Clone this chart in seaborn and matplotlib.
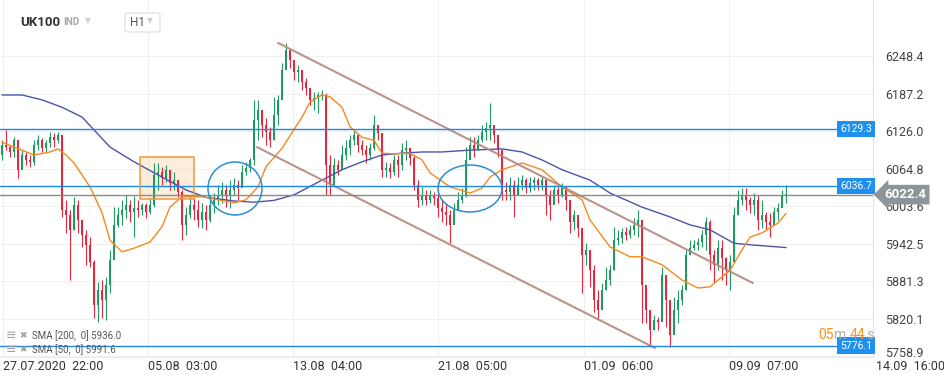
import numpy as np
import pandas as pd
import matplotlib
matplotlib.use("Agg")
import matplotlib.pyplot as plt
import matplotlib.transforms as mtransforms
from matplotlib.patches import Ellipse, Rectangle, FancyBboxPatch
import seaborn as sns

# ---------------- data ----------------
first_open = 6087
close = [6103, 6100, 6092, 6111, 6063, 6087, 6079, 6076, 6103, 6111, 6098, 6107, 6116, 6111, 6120,
         5997, 5989, 5965, 6005, 5981, 5957, 5940, 5912, 5842, 5867, 5850, 5875, 5916, 5973, 5989,
         5997, 6005, 5994, 6001, 5997, 6005, 5994, 6005, 6054, 6059, 6050, 6063, 6041, 6046, 6027,
         5973, 5989, 6005, 5997, 5981, 5994, 5981, 6005, 6014, 6022, 6030, 6022, 6030, 6038, 6033,
         6059, 6066, 6079, 6144, 6160, 6136, 6125, 6111, 6152, 6177, 6226, 6258, 6242, 6222, 6226,
         6206, 6196, 6177, 6180, 6185, 6185, 6071, 6038, 6071, 6063, 6087, 6098, 6111, 6120, 6103,
         6095, 6087, 6098, 6136, 6123, 6063, 6066, 6059, 6079, 6071, 6095, 6098, 6082, 6038, 6014,
         6022, 6014, 6022, 6017, 6001, 5994, 5989, 5973, 5997, 6014, 6022, 6079, 6103, 6095, 6111,
         6125, 6131, 6136, 6120, 6095, 6030, 6027, 6038, 6022, 6038, 6046, 6033, 6041, 6046, 6038,
         6046, 6022, 6005, 6030, 6022, 6036, 6014, 5978, 5989, 5968, 5924, 5932, 5899, 5850, 5834,
         5867, 5883, 5899, 5948, 5952, 5961, 5957, 5965, 5973, 5981, 5875, 5834, 5801, 5818, 5815,
         5891, 5850, 5793, 5834, 5850, 5867, 5924, 5935, 5940, 5945, 5957, 5978, 5924, 5908, 5935,
         5919, 5899, 5912, 5989, 6014, 6022, 6014, 6005, 6014, 5981, 5989, 5978, 5973, 5994, 6001,
         6022, 6022.4]
high = [6111, 6128, 6103, 6116, 6095, 6095, 6092, 6087, 6111, 6120, 6115, 6111, 6125, 6123, 6125,
        6120, 6014, 5997, 6018, 6014, 5973, 5965, 5953, 5916, 5880, 5883, 5888, 5932, 6002, 6002,
        6014, 6022, 6014, 6020, 6014, 6009, 6009, 6017, 6074, 6074, 6068, 6071, 6063, 6059, 6046,
        6030, 6002, 6019, 6017, 6014, 6009, 6005, 6022, 6025, 6038, 6043, 6038, 6046, 6050, 6046,
        6071, 6076, 6082, 6177, 6177, 6157, 6147, 6133, 6182, 6185, 6237, 6270, 6255, 6239, 6234,
        6218, 6213, 6196, 6190, 6190, 6193, 6188, 6087, 6082, 6079, 6103, 6111, 6120, 6128, 6120,
        6111, 6103, 6107, 6152, 6136, 6123, 6076, 6074, 6087, 6087, 6107, 6111, 6095, 6087, 6046,
        6035, 6030, 6030, 6027, 6025, 6014, 6009, 5997, 6009, 6027, 6033, 6100, 6116, 6116, 6120,
        6136, 6141, 6172, 6131, 6115, 6087, 6043, 6051, 6046, 6051, 6054, 6050, 6051, 6051, 6050,
        6051, 6038, 6030, 6038, 6035, 6041, 6035, 6014, 5997, 5981, 5965, 5943, 5932, 5908, 5867,
        5878, 5904, 5908, 5970, 5965, 5968, 5970, 5973, 5984, 5997, 5973, 5850, 5826, 5826, 5823,
        5904, 5867, 5818, 5855, 5867, 5875, 5932, 5948, 5948, 5952, 5965, 5986, 5981, 5932, 5948,
        5948, 5921, 5924, 6002, 6030, 6033, 6033, 6019, 6025, 6022, 6014, 5994, 5992, 6002, 6009,
        6030, 6038]
low = [6079, 6095, 6084, 6084, 6050, 6071, 6071, 6068, 6071, 6095, 6092, 6090, 6100, 6100, 6107,
       5986, 5960, 5883, 5965, 5960, 5937, 5908, 5904, 5821, 5815, 5821, 5818, 5862, 5924, 5970,
       5973, 5984, 5978, 5953, 5986, 5989, 5984, 5991, 6002, 6030, 6038, 6043, 6030, 6030, 6019,
       5948, 5957, 5984, 5981, 5970, 5968, 5965, 5978, 5992, 6005, 6009, 6002, 6001, 6022, 6014,
       6038, 6054, 6059, 6071, 6111, 6116, 6103, 6100, 6111, 6136, 6182, 6234, 6229, 6209, 6206,
       6193, 6185, 6169, 6160, 6156, 6177, 6022, 6022, 6054, 6054, 6071, 6079, 6087, 6103, 6092,
       6087, 6074, 6079, 6095, 6111, 6051, 6051, 6050, 6054, 6051, 6063, 6079, 6071, 6030, 6002,
       6005, 6005, 6009, 6005, 5986, 5978, 5973, 5943, 5978, 5997, 6009, 6019, 6084, 6084, 6095,
       6108, 6111, 6111, 6107, 6084, 6014, 6014, 6014, 5986, 6025, 6030, 6025, 6027, 6030, 6030,
       6030, 5989, 5981, 6014, 6009, 6019, 5997, 5960, 5965, 5953, 5862, 5908, 5872, 5831, 5818,
       5845, 5867, 5875, 5899, 5940, 5943, 5948, 5952, 5957, 5953, 5813, 5813, 5777, 5801, 5801,
       5842, 5806, 5774, 5801, 5813, 5842, 5867, 5924, 5932, 5932, 5937, 5932, 5899, 5878, 5899,
       5883, 5875, 5867, 5912, 5989, 6005, 5997, 5992, 5989, 5965, 5968, 5965, 5953, 5976, 5981,
       6005, 6009]

sma200_idx = [0, 5, 10, 15, 20, 23, 27, 33, 40, 46, 51, 58, 63, 68, 73, 80, 85, 90, 95, 100,
              105, 110, 117, 125, 130, 135, 140, 147, 152, 160, 167, 172, 177, 183, 188, 196]
sma200_val = [6185, 6185, 6177, 6165, 6149, 6128, 6100, 6076, 6051, 6030, 6018, 6012, 6010, 6013,
              6022, 6046, 6063, 6076, 6087, 6090, 6092, 6092, 6095, 6097, 6092, 6079, 6063, 6046,
              6025, 6002, 5986, 5973, 5965, 5943, 5940, 5936.0]
sma50_idx = [0, 5, 8, 12, 14, 16, 18, 22, 25, 27, 30, 33, 37, 40, 42, 45, 50, 54, 58, 61, 64, 66,
             70, 75, 77, 80, 82, 85, 87, 90, 93, 95, 98, 102, 105, 107, 112, 117, 120, 122, 125,
             130, 135, 140, 145, 147, 152, 157, 160, 165, 170, 174, 177, 182, 185, 187, 190, 192,
             194, 196]
sma50_val = [6108, 6095, 6087, 6092, 6097, 6087, 6074, 6035, 5993, 5948, 5929, 5935, 5945, 5970,
             6002, 6019, 6019, 6014, 6009, 6014, 6035, 6068, 6098, 6149, 6173, 6185, 6182, 6165,
             6133, 6116, 6111, 6090, 6089, 6090, 6079, 6058, 6035, 6025, 6033, 6051, 6063, 6074,
             6063, 6035, 6014, 5981, 5937, 5921, 5921, 5908, 5883, 5870, 5872, 5899, 5932, 5953,
             5960, 5968, 5976, 5991.6]

levels_blue = [6129.3, 6036.7, 5776.1]
last_price = 6022.4
sma_legend = ["SMA [200,  0] 5936.0", "SMA [50,  0] 5991.6"]

y_ticks = [6248.4, 6187.2, 6126.0, 6064.8, 6003.6, 5942.5, 5881.3, 5820.1, 5758.9]
x_tick_pos = [0.25, 36.5, 72.75, 109, 145.5, 181.75, 218.5]
x_tick_labels = ["27.07.2020  22:00", "05.08  03:00", "13.08  04:00", "21.08  05:00",
                 "01.09  06:00", "09.09  07:00", "14.09  16:00"]

channel_upper_x = [69, 187.75]
channel_upper_y = [6270, 5878]
channel_lower_x = [63.75, 163.25]
channel_lower_y = [6100, 5772]
ellipses = [(58.25, 6032.4, 13.5, 86.5), (117, 6032.4, 16, 76.7)]
zone_box = (34.5, 6015.2, 13.5, 68.6)

# ---------------- style ----------------
sns.set_theme(style="white")
plt.rcParams["font.family"] = ["Roboto", "DejaVu Sans"]

fig = plt.figure(figsize=(9.45, 3.82), dpi=100)
fig.patch.set_facecolor("white")
ax = fig.add_axes([0, 25 / 382, 873 / 945, 357 / 382])
ax.set_facecolor("white")
ax.set_xlim(-0.5, 217.75)
ax.set_ylim(5757.4, 6340.0)

for s in ["top", "left"]:
    ax.spines[s].set_visible(False)
ax.spines["right"].set_color("#e4e4e4")
ax.spines["bottom"].set_color("#ececec")
ax.spines["right"].set_linewidth(0.8)
ax.spines["bottom"].set_linewidth(0.8)

ax.set_yticks(y_ticks)
ax.set_yticklabels([f"{v:.1f}" for v in y_ticks])
ax.yaxis.tick_right()
ax.tick_params(axis="y", length=0, pad=9, labelsize=9, labelcolor="#444444")
last_lbl = ax.get_yticklabels()[-1]
last_lbl.set_transform(last_lbl.get_transform() +
                       mtransforms.ScaledTranslation(0, 4 / 100, fig.dpi_scale_trans))
ax.set_xticks(x_tick_pos[:6])
ax.set_xticklabels([])
ax.tick_params(axis="x", length=0)
ax.grid(True, color="#f0f0f0", linewidth=0.8)
ax.set_axisbelow(True)

trans_x = mtransforms.blended_transform_factory(ax.transData, ax.transAxes)
for p, lab in zip(x_tick_pos, x_tick_labels):
    ax.text(p, -0.027, lab, transform=trans_x, ha="left", va="center",
            fontsize=9, color="#333333", clip_on=False)

# ---------------- candles ----------------
df = pd.DataFrame({"close": close, "high": high, "low": low})
df["open"] = [first_open] + close[:-1]
df["idx"] = np.arange(len(df))
up = df["close"] >= df["open"]
col = np.where(up, "#1f9b62", "#e5263c")
ax.vlines(df["idx"], df["low"], df["high"], colors=col, linewidth=0.8, zorder=3)
body = (df["close"] - df["open"]).abs().clip(lower=1.0)
ax.bar(df["idx"], body, bottom=np.minimum(df["open"], df["close"]), width=0.6,
       color=col, linewidth=0, zorder=3)

# ---------------- SMAs ----------------
sns.lineplot(x=sma200_idx, y=sma200_val, ax=ax, color="#4a55a8", linewidth=1.0,
             estimator=None, sort=False, zorder=4)
sns.lineplot(x=sma50_idx, y=sma50_val, ax=ax, color="#f5891f", linewidth=1.0,
             estimator=None, sort=False, zorder=4)

# ---------------- drawings ----------------
ax.plot(channel_upper_x, channel_upper_y, color="#b4877e", linewidth=1.5, alpha=0.9, zorder=5)
ax.plot(channel_lower_x, channel_lower_y, color="#b4877e", linewidth=1.5, alpha=0.9, zorder=5)
for cx, cy, w, h in ellipses:
    ax.add_patch(Ellipse((cx, cy), w, h, fill=False, edgecolor="#2a8fd4", linewidth=1.1, zorder=6))
bx, by, bw, bh = zone_box
ax.add_patch(Rectangle((bx, by), bw, bh, facecolor="#fbd9b5", alpha=0.45, edgecolor="none", zorder=2))
ax.add_patch(Rectangle((bx, by), bw, bh, fill=False, edgecolor="#f39a36", linewidth=1.1, zorder=6))

trans_y = mtransforms.blended_transform_factory(ax.transAxes, ax.transData)
for lv in levels_blue:
    ax.axhline(lv, color="#1e88e5", linewidth=1.0, zorder=5)
    ax.text(0.9805, lv, f"{lv:.1f}", transform=trans_y, ha="center", va="center",
            fontsize=7.5, color="white", zorder=10, clip_on=False,
            bbox=dict(boxstyle="square,pad=0.3", fc="#1e90f0", ec="none"))
ax.axhline(last_price, color="#8a8a8a", linewidth=1.0, zorder=5)
ax.text(1.037, last_price, f"{last_price:.1f}", transform=trans_y, ha="center", va="center",
        fontsize=9.5, fontweight="bold", color="white", zorder=10, clip_on=False,
        bbox=dict(boxstyle="larrow,pad=0.25", fc="#8c969a", ec="none"))

# ---------------- header / legend / countdown ----------------
fig.text(20 / 945, 1 - 22 / 382, "UK100", fontsize=9.5, fontweight="bold", color="#333333",
         ha="left", va="center")
fig.text(63 / 945, 1 - 22 / 382, "IND", fontsize=7, fontweight="bold", color="#a8a8a8",
         ha="left", va="center")
fig.text(85 / 945, 1 - 21 / 382, "\u25BC", fontsize=5.5, color="#cfcfcf", ha="left", va="center",
         family="DejaVu Sans")
fig.patches.append(FancyBboxPatch((125 / 945, 1 - 32 / 382), 35 / 945, 19 / 382,
                                  boxstyle="round,pad=0,rounding_size=0.004",
                                  transform=fig.transFigure, facecolor="white",
                                  edgecolor="#dddddd", linewidth=0.8, zorder=20))
fig.text(130 / 945, 1 - 22 / 382, "H1", fontsize=8.5, color="#555555", ha="left", va="center",
         zorder=21)
fig.text(147 / 945, 1 - 21 / 382, "\u25BC", fontsize=5.5, color="#cfcfcf", ha="left", va="center",
         family="DejaVu Sans", zorder=21)

for k, lab in enumerate(sma_legend):
    yy = 1 - (336 + 14 * k) / 382
    fig.text(6 / 945, yy, "\u2261", fontsize=9, color="#a0a0a0", ha="left", va="center",
             family="DejaVu Sans")
    fig.text(19 / 945, yy, "\u2716", fontsize=6.5, color="#a0a0a0", ha="left", va="center",
             family="DejaVu Sans")
    fig.text(32 / 945, yy, lab, fontsize=7, color="#555555", ha="left", va="center")

cd_y = 1 - 335 / 382
fig.text(818 / 945, cd_y, "05", fontsize=10, color="#f7941d", ha="left", va="center")
fig.text(834 / 945, cd_y, "m", fontsize=10, color="#b0b0b0", ha="left", va="center")
fig.text(850 / 945, cd_y, "44", fontsize=10, color="#f7941d", ha="left", va="center")
fig.text(866 / 945, cd_y, "s", fontsize=10, color="#b0b0b0", ha="left", va="center")

fig.savefig("out.png", dpi=100, facecolor="white")
